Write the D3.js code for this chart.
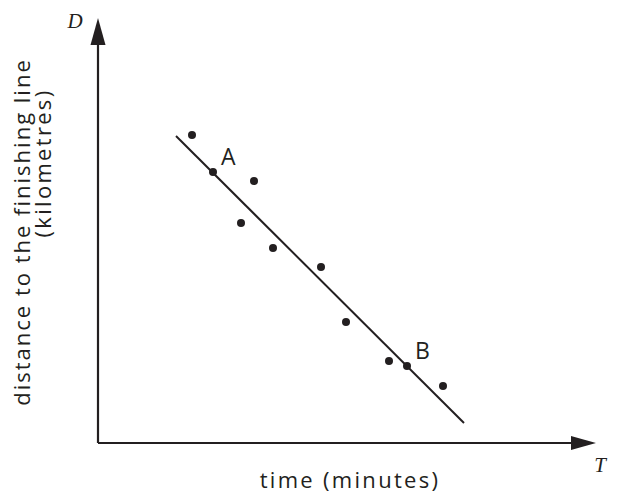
<!DOCTYPE html>
<html>
<head>
<meta charset="utf-8">
<script src="https://cdn.jsdelivr.net/npm/d3@7"></script>
<style>
  body { margin: 0; background: #fff; }
  svg { display: block; }
  .lbl { font-family: "Open Sans", "Noto Sans", sans-serif; fill: #231f20; }
  .var { font-family: "Liberation Serif", "DejaVu Serif", serif; font-style: italic; fill: #231f20; }
</style>
</head>
<body>
<div class="graph-container"></div>
<script>
// observed points (time in minutes, distance in km)
const timeValues = [9.4, 11.5, 15.6, 14.3, 17.5, 22.3, 24.8, 29.1, 30.9, 34.5];
const distanceValues = [30.8, 27.1, 26.2, 22.0, 19.5, 17.6, 12.1, 8.2, 7.7, 5.7];
// line of best fit end points
const lineTime = [7.8, 36.6];
const lineDistance = [30.7, 2.0];
// named points on the line
const pointNames = ['A', 'B'];
const pointIndex = [1, 8];

const width = 617, height = 495;
const ink = '#231f20';

const svg = d3.select('div.graph-container')
    .append('svg')
    .attr('width', width)
    .attr('height', height);

const x = d3.scaleLinear().domain([0, 49.8]).range([98, 596]);
const y = d3.scaleLinear().domain([0, 42.5]).range([443, 18]);

const [x0, x1] = x.range();
const [y0, y1] = y.range();

// axes
svg.append('line')
    .attr('x1', x0).attr('y1', y0)
    .attr('x2', x1 - 20).attr('y2', y0)
    .attr('stroke', ink).attr('stroke-width', 2.2);
svg.append('path')
    .attr('d', `M${x1},${y0} L${x1 - 25},${y0 - 7} L${x1 - 25},${y0 + 7} Z`)
    .attr('fill', ink);

svg.append('line')
    .attr('x1', x0).attr('y1', y0)
    .attr('x2', x0).attr('y2', y1 + 22)
    .attr('stroke', ink).attr('stroke-width', 2.2);
svg.append('path')
    .attr('d', `M${x0},${y1} L${x0 - 7.5},${y1 + 27} L${x0 + 7.5},${y1 + 27} Z`)
    .attr('fill', ink);

// fitted line
svg.append('line')
    .attr('x1', x(lineTime[0])).attr('y1', y(lineDistance[0]))
    .attr('x2', x(lineTime[1])).attr('y2', y(lineDistance[1]))
    .attr('stroke', ink).attr('stroke-width', 2);

// data points
svg.append('g')
    .selectAll('circle')
    .data(timeValues)
    .enter()
    .append('circle')
    .attr('cx', d => x(d))
    .attr('cy', (d, i) => y(distanceValues[i]))
    .attr('r', 4)
    .attr('fill', ink);

// A and B labels
svg.append('g')
    .selectAll('text')
    .data(pointNames)
    .enter()
    .append('text')
    .attr('class', 'lbl')
    .attr('x', (d, i) => x(timeValues[pointIndex[i]]) + 8)
    .attr('y', (d, i) => y(distanceValues[pointIndex[i]]) - 7)
    .attr('font-size', '23px')
    .text(d => d);

// axis titles
svg.append('text')
    .attr('class', 'var')
    .attr('x', 75).attr('y', 28)
    .attr('text-anchor', 'middle')
    .attr('font-size', '21px')
    .text('D');
svg.append('text')
    .attr('class', 'var')
    .attr('x', 600).attr('y', 472)
    .attr('text-anchor', 'middle')
    .attr('font-size', '21px')
    .text('T');

svg.append('text')
    .attr('class', 'lbl')
    .attr('x', 350).attr('y', 488)
    .attr('text-anchor', 'middle')
    .attr('font-size', '22px')
    .attr('letter-spacing', '2.3px')
    .text('time (minutes)');

svg.append('text')
    .attr('class', 'lbl')
    .attr('transform', 'translate(30,232) rotate(-90)')
    .attr('text-anchor', 'middle')
    .attr('font-size', '22px')
    .attr('letter-spacing', '2px')
    .text('distance to the finishing line');
svg.append('text')
    .attr('class', 'lbl')
    .attr('transform', 'translate(51,163) rotate(-90)')
    .attr('text-anchor', 'middle')
    .attr('font-size', '22px')
    .attr('letter-spacing', '2.3px')
    .text('(kilometres)');
</script>
</body>
</html>
